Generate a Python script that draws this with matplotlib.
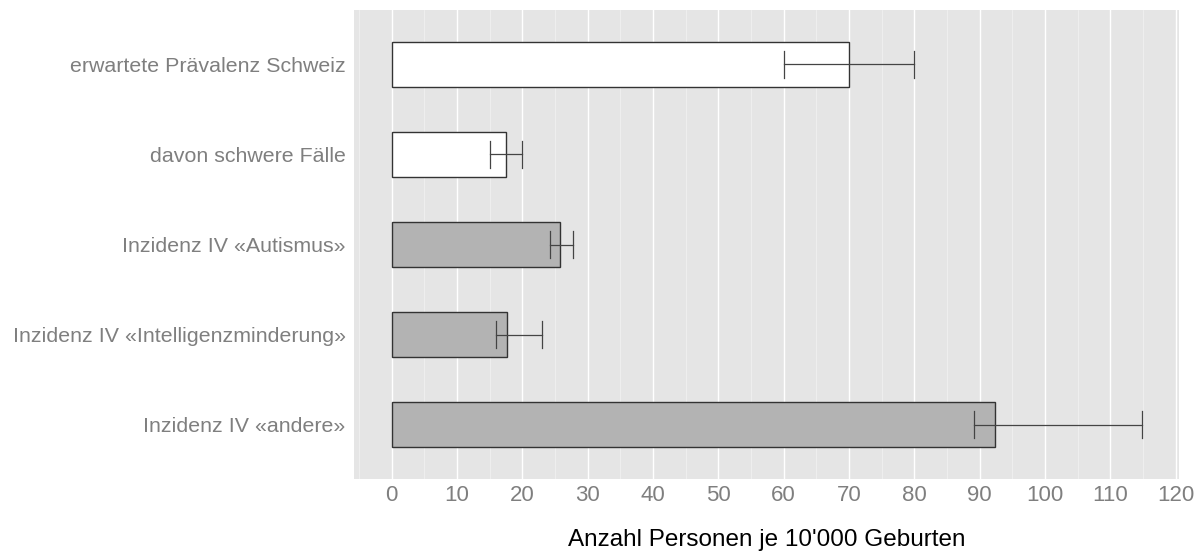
import matplotlib
matplotlib.use("Agg")
import matplotlib.pyplot as plt
from matplotlib.ticker import MultipleLocator

plt.rcParams['font.family'] = ['Liberation Sans', 'DejaVu Sans']

# Daten (von oben nach unten)
kategorien = ['erwartete Prävalenz Schweiz', 'davon schwere Fälle', 'Inzidenz IV «Autismus»',
              'Inzidenz IV «Intelligenzminderung»', 'Inzidenz IV «andere»']
werte = [70.0, 17.5, 25.8, 17.6, 92.3]
untere = [60.0, 15.0, 24.2, 16.0, 89.1]
obere = [80.0, 20.0, 27.7, 23.0, 114.8]
farben = ['white', 'white', '#B3B3B3', '#B3B3B3', '#B3B3B3']

fig = plt.figure(figsize=(12.02, 5.53), dpi=100)
ax = fig.add_axes([354 / 1202, 1 - 479 / 553, (1179 - 354) / 1202, (479 - 10) / 553])
ax.set_facecolor('#E5E5E5')

n = len(kategorien)
pos = [n - i for i in range(n)]  # erste Kategorie oben
ax.barh(pos, werte, height=0.5, color=farben, edgecolor='#333333', linewidth=1.0, zorder=3)

for y, lo, hi in zip(pos, untere, obere):
    ax.plot([lo, hi], [y, y], color='#444444', lw=0.9, zorder=4)
    ax.plot([lo, lo], [y - 0.15, y + 0.15], color='#444444', lw=0.9, zorder=4)
    ax.plot([hi, hi], [y - 0.15, y + 0.15], color='#444444', lw=0.9, zorder=4)

ax.set_xlim(-5.74, 120.5)
ax.set_ylim(0.4, n + 0.6)
ax.xaxis.set_major_locator(MultipleLocator(10))
ax.xaxis.set_minor_locator(MultipleLocator(5))
ax.grid(which='major', axis='x', color='white', lw=1.0, zorder=0)
ax.grid(which='minor', axis='x', color='#F0F0F0', lw=0.6, zorder=0)
ax.set_axisbelow(True)

ax.set_yticks(pos)
ax.set_yticklabels(kategorien)
ax.tick_params(axis='y', length=0, pad=6, labelsize=15.4, labelcolor='#7F7F7F')
ax.tick_params(axis='x', which='both', length=0, pad=4, labelsize=16, labelcolor='#7F7F7F')

for s in ax.spines.values():
    s.set_visible(False)

ax.set_xlabel("Anzahl Personen je 10'000 Geburten", fontsize=17.5, color='black', labelpad=17)

fig.savefig('out.png', dpi=100)
